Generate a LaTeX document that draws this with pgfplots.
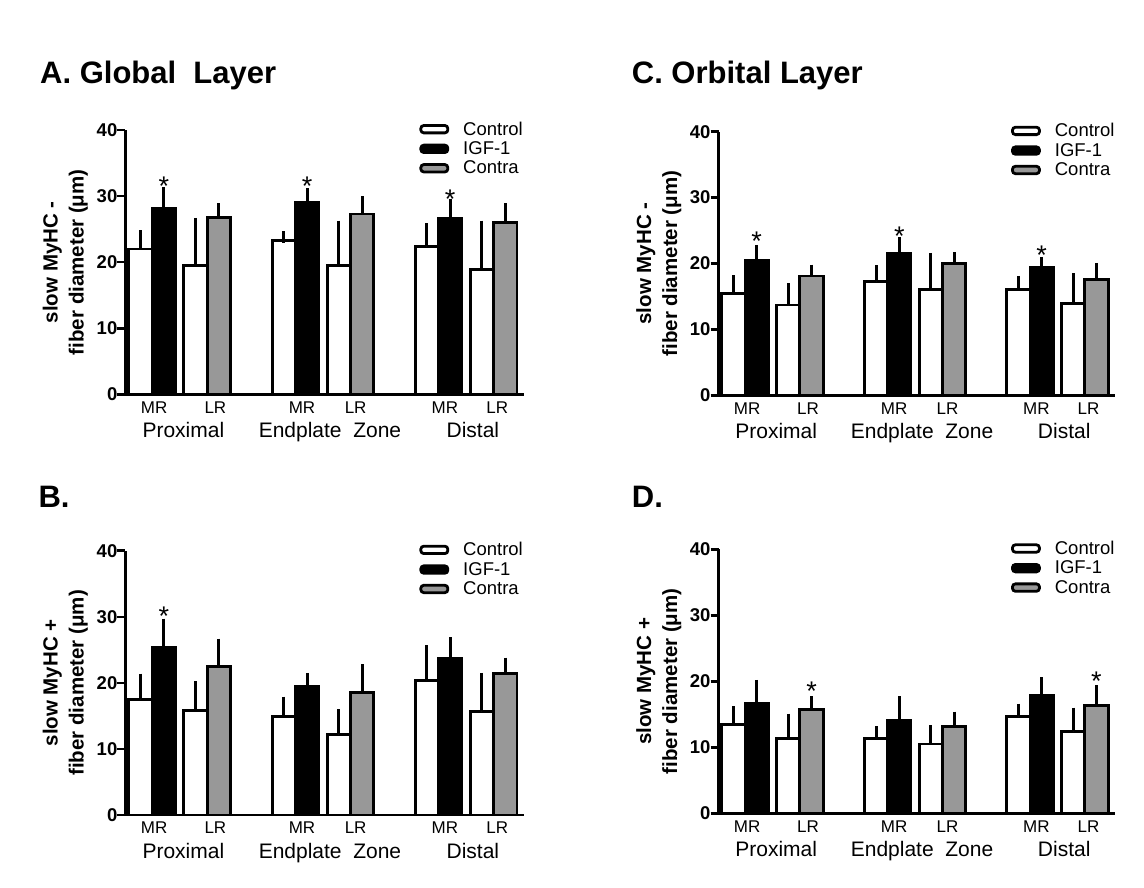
\documentclass[border=0pt]{standalone}
\usepackage{fontspec}
\setmainfont{Liberation Sans}
\usepackage{pgfplots}
\pgfplotsset{compat=1.18}
\definecolor{barGray}{RGB}{152,152,152}

\pgfplotsset{
  panel/.style={
    scale only axis,
    xmin=0, xmax=17.05, ymin=0, ymax=40,
    axis x line*=bottom, axis y line*=left,
    axis line style={line width=2.5pt, black},
    clip=false,
    ytick={0,10,20,30,40},
    ytick style={line width=2.5pt, black},
    ytick align=outside, xtick align=inside,
    major tick length=8pt,
    /pgf/number format/assume math mode=true,
    yticklabel style={font=\fontsize{18.5}{20}\selectfont\bfseries, inner sep=0pt, xshift=0pt},
    xtick={1.23,3.85,7.56,9.86,13.68,15.93},
    xticklabels={MR,LR,MR,LR,MR,LR},
    xtick style={draw=none},
    xticklabel style={font=\fontsize{17}{18}\selectfont, anchor=base, inner sep=0pt, yshift=-19pt},
    extra x ticks={2.48,8.76,14.88},
    extra x tick labels={Proximal,Endplate\ \ Zone,Distal},
    extra x tick style={xtick style={draw=none}, major tick length=0pt,
      xticklabel style={font=\fontsize{21}{23}\selectfont, yshift=-24.5pt}},
    ylabel style={at={(axis description cs:-0.151,0.5)}, anchor=center, align=center,
      font=\fontsize{20.5}{26}\selectfont\bfseries},
    legend style={at={(0.738,1.032)}, anchor=north west, draw=none, fill=none,
      inner sep=0pt, row sep=5pt, font=\fontsize{18.5}{20}\selectfont,
      nodes={inner sep=0pt},
      /tikz/every odd column/.append style={column sep=14pt}},
    legend cell align=left,
  },
  bars/.style={ybar, bar width=1, bar shift=0pt, draw=black, line width=2.9pt,
    error bars/y dir=plus, error bars/y explicit,
    error bars/error bar style={line width=3pt, draw=black, solid},
    error bars/error mark options={line width=3pt, mark size=6pt, draw=black, solid},
    legend image code/.code={\draw[##1,/tikz/.cd, line width=2.8pt, rounded corners=3pt] (0pt,-3.7pt) rectangle (27pt,3.7pt);},
  },
  stars/.style={draw=none, mark=none, forget plot, nodes near coords={*},
    every node near coord/.append style={anchor=base, font=\fontsize{27}{27}\selectfont, inner sep=0pt}},
}

\begin{document}
\begin{tikzpicture}
\path[use as bounding box] (0pt,0pt) rectangle (1144pt,888pt);

\node[anchor=base west, inner sep=0pt, font=\fontsize{31}{31}\selectfont\bfseries] at (40pt,804.7pt) {A. Global\ \ Layer};
\node[anchor=base west, inner sep=0pt, font=\fontsize{31}{31}\selectfont\bfseries] at (631.7pt,804.7pt) {C. Orbital Layer};
\node[anchor=base west, inner sep=0pt, font=\fontsize{31}{31}\selectfont\bfseries] at (38.3pt,380.7pt) {B.};
\node[anchor=base west, inner sep=0pt, font=\fontsize{31}{31}\selectfont\bfseries] at (631.7pt,380.7pt) {D.};

% ---------- A ----------
\begin{axis}[panel, at={(125.5pt,493.5pt)}, anchor=south west, width=398pt, height=264.5pt,
  ylabel={slow MyHC -\\fiber diameter (μm)}]
\addplot[bars, fill=white] coordinates {
  (0.64,22.0) +- (0,1.9)
  (3.00,19.5) +- (0,6.3)
  (6.78,23.3) +- (0,0.5)
  (9.14,19.5) +- (0,5.9)
  (12.91,22.4) +- (0,2.6)
  (15.27,18.9) +- (0,6.5)};
\addlegendentry{Control}
\addplot[bars, fill=black] coordinates {
  (1.64,28.2) +- (0,2.2)
  (7.78,29.1) +- (0,1.2)
  (13.91,26.6) +- (0,2.1)};
\addlegendentry{IGF-1}
\addplot[bars, fill=barGray] coordinates {
  (4.00,26.7) +- (0,1.3)
  (10.14,27.3) +- (0,1.8)
  (16.27,26.0) +- (0,2.0)};
\addlegendentry{Contra}
\addplot[stars] coordinates {(1.64,30.1) (7.78,30.1) (13.91,28.2)};
\end{axis}

% ---------- C ----------
\begin{axis}[panel, at={(718.6pt,492.7pt)}, anchor=south west, width=396pt, height=263.6pt,
  ylabel={slow MyHC -\\fiber diameter (μm)}]
\addplot[bars, fill=white] coordinates {
  (0.64,15.5) +- (0,1.8)
  (3.00,13.7) +- (0,2.4)
  (6.78,17.3) +- (0,1.5)
  (9.14,16.0) +- (0,4.7)
  (12.91,16.0) +- (0,1.2)
  (15.27,13.9) +- (0,3.7)};
\addlegendentry{Control}
\addplot[bars, fill=black] coordinates {
  (1.64,20.5) +- (0,1.4)
  (7.78,21.5) +- (0,1.6)
  (13.91,19.4) +- (0,0.7)};
\addlegendentry{IGF-1}
\addplot[bars, fill=barGray] coordinates {
  (4.00,18.1) +- (0,0.8)
  (10.14,20.0) +- (0,0.8)
  (16.27,17.6) +- (0,1.6)};
\addlegendentry{Contra}
\addplot[stars] coordinates {(1.64,22.0) (7.78,22.7) (13.91,19.8)};
\end{axis}

% ---------- B ----------
\begin{axis}[panel, at={(125.5pt,73pt)}, anchor=south west, width=398pt, height=264.3pt,
  ylabel={slow MyHC +\\fiber diameter (μm)}]
\addplot[bars, fill=white] coordinates {
  (0.64,17.5) +- (0,3.0)
  (3.00,15.8) +- (0,3.5)
  (6.78,14.9) +- (0,2.1)
  (9.14,12.2) +- (0,2.9)
  (12.91,20.4) +- (0,4.4)
  (15.27,15.7) +- (0,4.9)};
\addlegendentry{Control}
\addplot[bars, fill=black] coordinates {
  (1.64,25.3) +- (0,3.5)
  (7.78,19.5) +- (0,1.1)
  (13.91,23.7) +- (0,2.3)};
\addlegendentry{IGF-1}
\addplot[bars, fill=barGray] coordinates {
  (4.00,22.5) +- (0,3.3)
  (10.14,18.5) +- (0,3.4)
  (16.27,21.4) +- (0,1.5)};
\addlegendentry{Contra}
\addplot[stars] coordinates {(1.64,28.7)};
\end{axis}

% ---------- D ----------
\begin{axis}[panel, at={(718.6pt,74.7pt)}, anchor=south west, width=396pt, height=264pt,
  ylabel={slow MyHC +\\fiber diameter (μm)}]
\addplot[bars, fill=white] coordinates {
  (0.64,13.5) +- (0,1.8)
  (3.00,11.4) +- (0,2.8)
  (6.78,11.4) +- (0,0.9)
  (9.14,10.5) +- (0,1.9)
  (12.91,14.7) +- (0,1.0)
  (15.27,12.4) +- (0,2.7)};
\addlegendentry{Control}
\addplot[bars, fill=black] coordinates {
  (1.64,16.7) +- (0,2.6)
  (7.78,14.1) +- (0,2.7)
  (13.91,17.8) +- (0,1.9)};
\addlegendentry{IGF-1}
\addplot[bars, fill=barGray] coordinates {
  (4.00,15.7) +- (0,1.1)
  (10.14,13.2) +- (0,1.3)
  (16.27,16.4) +- (0,2.1)};
\addlegendentry{Contra}
\addplot[stars] coordinates {(4.00,17.1) (16.27,18.6)};
\end{axis}
\end{tikzpicture}
\end{document}
